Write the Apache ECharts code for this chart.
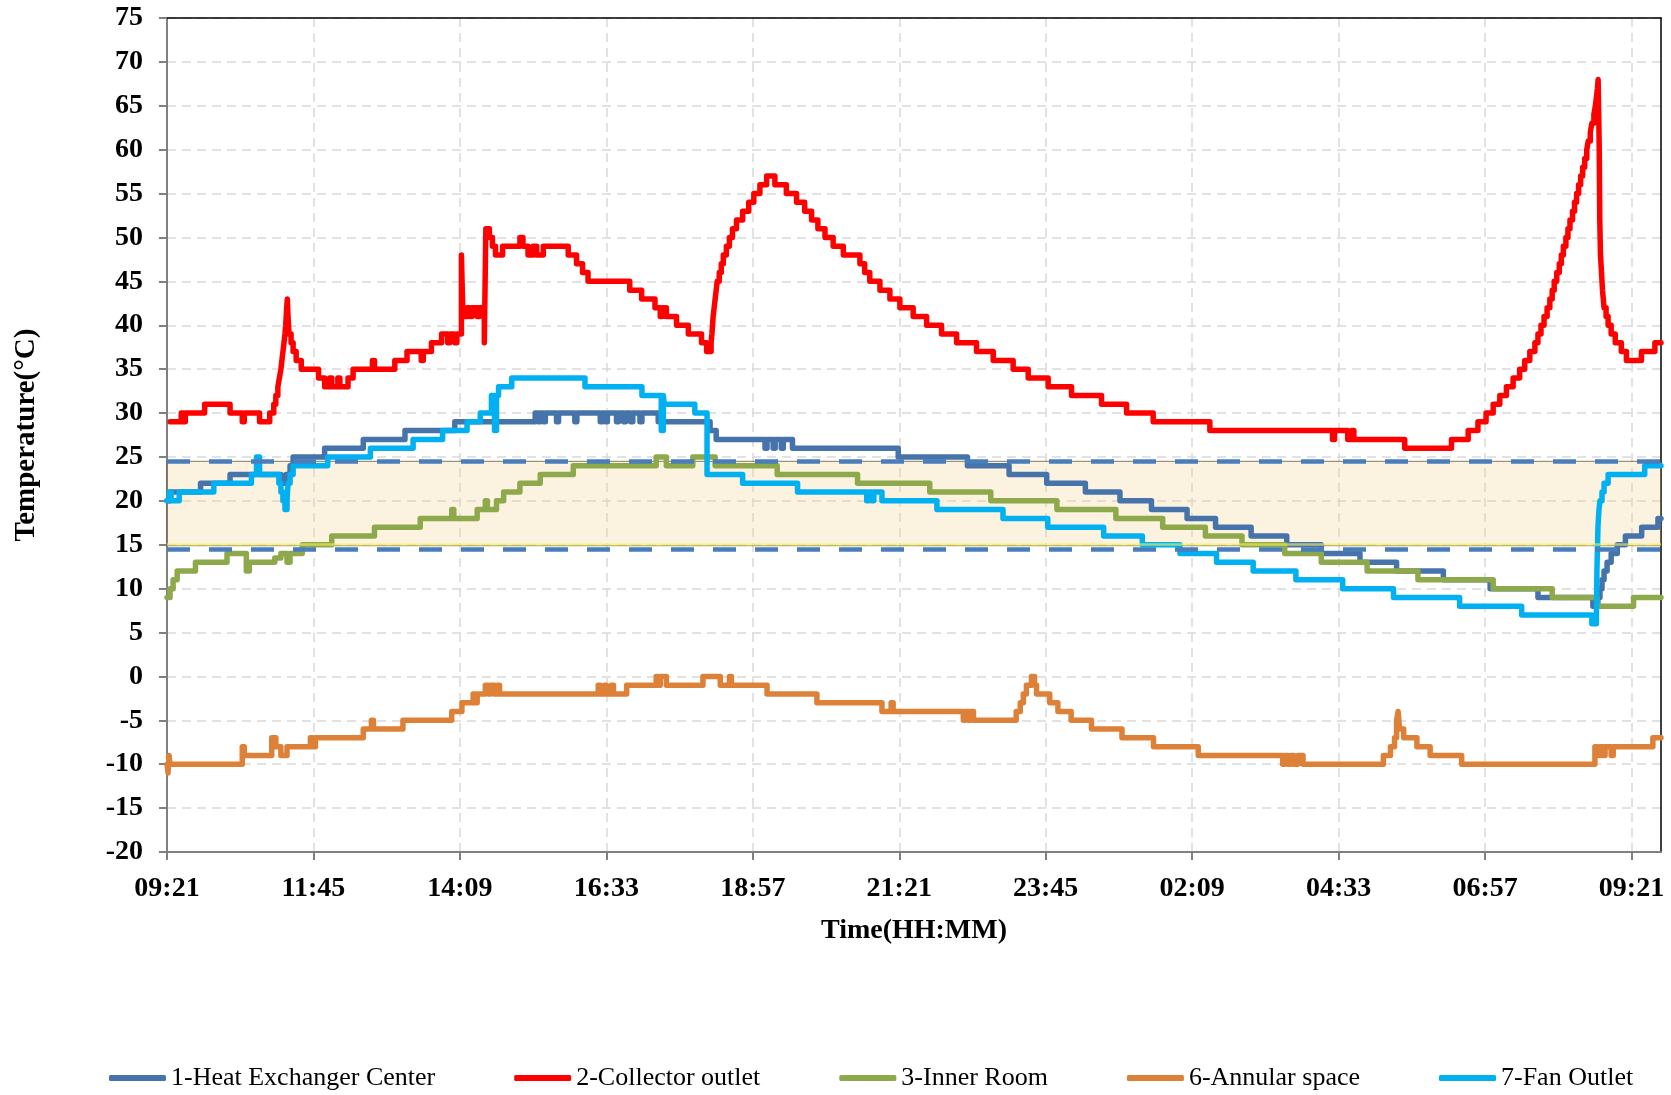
<!DOCTYPE html>
<html>
<head>
<meta charset="utf-8">
<script src="https://cdn.jsdelivr.net/npm/echarts@6/dist/echarts.min.js"></script>
<style>
html,body{margin:0;padding:0;background:#fff;}
#chart{width:1671px;height:1095px;}
</style>
</head>
<body>
<div id="chart"></div>
<script>
// ---- data (x = minutes after 09:21, y = temperature °C) ----
const seriesNames = ['1-Heat Exchanger Center','2-Collector outlet','3-Inner Room','6-Annular space','7-Fan Outlet'];
const xTickValues = [0,144,288,432,576,720,864,1008,1152,1296,1440];
const xTickLabels = ['09:21','11:45','14:09','16:33','18:57','21:21','23:45','02:09','04:33','06:57','09:21'];
const comfortBand = [14.9, 24.5];
const comfortLimits = [24.55, 14.5];
const peakLabels = ['Peak 1','Peak 2'];
const peakX = [548, 1302];
const peakY = [62.4, 67.1];

const heatExchanger = [[0,20],[3,21],[33,22],[62,23],[112,22],[117,23],[121,24],[124,25],[155,26],[193,27],[234,28],[283,29],[362,30],
[365,29],[367,30],[370,29],[372,30],[383,29],[385,30],[401,29],[403,30],[426,29],[428,30],[431,29],[433,30],[442,29],[444,30],[449,29],[451,30],[456,29],[458,30],[465,29],[467,30],
[483,29],[534,28],[540,27],[588,26],[590,27],[596,26],[598,27],[604,26],[606,27],[615,26],[719,25],[787,24],[828,23],[865,22],[903,21],[937,20],[968,19],[1003,18],[1031,17],[1066,16],[1101,15],[1135,14],[1173,13],[1209,12],[1255,11],[1301,10],[1348,9],[1402,8],[1407,9],[1409,10],[1411,11],[1413,12],[1416,13],[1420,14],[1426,15],[1434,16],[1450,17],[1466,18],[1469,18]];

const collectorOutlet = [[3,29],[14,30],[16,29],[18,30],[37,31],[62,30],[74,29],[76,30],[91,29],[101,30],
[105,31],[107,32],[109,33],[110.5,34],[112,35],[113,36],[114,37],[115,38],[116,39],[116.7,40],[117.2,41],[117.7,42],[118.3,43],
[119,41],[119.5,40],[120,39],[122,38],[124,37],[127,36],[132,35],[149,34],[155,33],[160,34],[162,33],[168,34],[170,33],[178,34],[183,35],[202,36],[204,35],[224,36],[236,37],[250,36],[252,37],[260,38],[270,39],[276,38],[278,39],[283,38],[285,39],
[289.5,48],[291,41],[295,42],[298,41],[300,42],[305,41],[307,42],[312,38],[313.5,51],[317,50],[320,49],[323,48],[330,49],[347,50],[350,49],[355,48],[360,49],[363.5,48],[370,49],[394.5,48],[402.7,47],[408.6,46],[414,45],[455,44],[466.7,43],[479.8,42],[485,41],[487,42],[491,41],[501,40],[512.6,39],[525.6,38],[530.6,37],
[535,38],[535.8,39],[536.4,40],[537,41],[538,42],[539,43],[540,44],[541,45],[543,46],[545,47],[547,48],[550,49],[553,50],[556,51],[560,52],[566,53],[572,54],[577,55],[583,56],[589.6,57],
[597.7,56],[609,55],[619,54],[627,53],[633.8,52],[640,51],[647,50],[655,49],[665,48],[681.3,47],[686,46],[691,45],[701,44],[710.8,43],[720.6,42],[733.7,41],[746.9,40],[761.6,39],[776.4,38],[796,37],[812.4,36],[832,35],[846.8,34],[866.4,33],[889.4,32],[918.9,31],[943.5,30],[969.7,29],[1025.4,28],
[1146,27],[1148,28],[1161,27],[1165,28],[1167,27],[1217,26],[1263,27],[1279.4,28],[1289,29],[1297,30],[1304,31],[1310.5,32],[1317,33],[1323.6,34],[1330,35],[1335,36],[1340,37],[1345,38],[1348,39],[1351,40],[1354,41],[1357,42],[1359.7,43],[1362,44],[1364,45],[1366.5,46],[1369,47],[1371,48],[1373,49],[1375.5,50],[1377.5,51],[1379.5,52],[1382,53],[1384,54],[1386,55],[1388,56],[1390,57],[1392,58],[1394,59],[1396,60],[1397.5,61],[1399.5,62],[1401,63],[1403,64],[1404.5,65],[1405.5,66],[1406.5,67],[1407.2,68],
[1408.3,60],[1408.8,52],[1409.5,48],[1410.5,46],[1411.5,44],[1413,42],[1415,41],[1417,40],[1420,39],[1424,38],[1430,37],[1435,36],[1449.8,37],[1463,38],[1469,38]];

const innerRoom = [[0,9],[3,10],[6,11],[10,12],[28,13],[59,14],[78,12],[81,13],[106,13.5],[112,14],[118,13],[121,14],[133,15],[162,16],[204,17],[249,18],[280,19],[282,18],[305,19],[313,20],[315,19],[324,20],[331,21],[347,22],[367,23],[399.5,24],[481,25],[491,24],[517,25],[539,24],[600,23],[679,22],[750,21],[810,20],[875,19],[933,18],[979,17],[1021,16],[1057,15],[1099,14],[1135,13],[1180,12],[1230,11],[1304,10],[1362,9],[1406,8],[1442,9],[1469,9]];

const annularSpace = [[0,-10],[1,-11],[2,-9],[3,-10],[74,-8],[76,-9],[103,-7],[107,-8],[112,-9],[118,-8],[141,-7],[143,-8],[146,-7],[193,-6],[201,-5],[203,-6],[232,-5],[280,-4],[290,-3],[301,-2],[303,-3],[305,-2],[313,-1],[316,-2],[318,-1],[322,-2],[325,-1],[327,-2],[424,-1],[426,-2],[430,-1],[432,-2],[437,-1],[439,-2],[452,-1],[481,0],[483,-1],[485,0],[491,-1],[527,0],[544,-1],[553,0],[555,-1],[590,-2],[639,-3],[703,-4],[712,-3],[714,-4],[783,-5],[785,-4],[788,-5],[790,-4],[793,-5],[835,-4],[839,-3],[842,-2],[845,-1],[850,0],[853,-1],[855,-2],[868,-3],[876,-4],[889,-5],[909,-6],[939,-7],[970,-8],[1014,-9],[1097,-10],[1099,-9],[1102,-10],[1105,-9],[1108,-10],[1112,-9],[1117,-10],[1196,-9],[1203,-8],[1207,-7],[1209,-5],[1210.5,-4],[1212,-6],[1216,-7],[1229,-8],[1242,-9],[1273,-10],[1404,-8],[1407,-9],[1409,-8],[1412,-9],[1414,-8],[1420,-9],[1422,-8],[1461,-7],[1469,-7]];

const fanOutlet = [[0,20],[2,21],[4,20],[12,21],[46,22],[83,23],[88,25],[91,23],[110,22],[112,21],[114,20],[116,19],[118,20],[119,22],[121,23],[124,24],[158,25],[200,26],[242,27],[271,28],[295,29],[308,30],[319,32],[322,28],[324,32],[326,33],[339,34],[411,33],[467,32],[486,28],[488,32],[489,31],[519,30],[531,23],[566,22],[620,21],[688,20],[690,21],[693,20],[695,21],[703,20],[757,19],[822,18],[866,17],[921,16],[959,15],[996,14],[1032,13],[1068,12],[1110,11],[1156,10],[1206,9],[1271,8],[1332,7],[1401,6],[1405.5,7],[1406,12],[1407,17],[1408,19],[1409,20],[1411,21],[1413,22],[1417,23],[1453,24],[1469,24]];

const seriesData = [heatExchanger, collectorOutlet, innerRoom, annularSpace, fanOutlet];
const seriesColors = ['#4674AA','#FF0000','#8DA94B','#DE8138','#00B0F0'];

// ---- chart ----
const FONT = "'Liberation Serif','Times New Roman',serif";
const chart = echarts.init(document.getElementById('chart'), null, {renderer:'canvas'});

const lineSeries = seriesNames.map((n,i)=>({
  name:n, type:'line', step:'end', data:seriesData[i], showSymbol:false, symbol:'none',
  color:seriesColors[i],
  lineStyle:{width:5.5, color:seriesColors[i], cap:'round', join:'round'},
  z:2, animation:false
}));

const gridLine = {show:true, lineStyle:{color:'#D9D9D9', width:1.5, type:[9,6]}};

const option = {
  animation:false,
  backgroundColor:'#fff',
  grid:{left:167, top:18, right:10, bottom:243, containLabel:false},
  legend:{
    data:seriesNames, left:104, top:1060, itemGap:79, itemWidth:57, itemHeight:6, icon:'roundRect',
    textStyle:{fontFamily:FONT, fontSize:26, color:'#000'}
  },
  xAxis:[{
    type:'value', min:0, max:1469, interval:144,
    name:'Time(HH:MM)', nameLocation:'middle', nameGap:65,
    nameTextStyle:{fontFamily:FONT, fontSize:28, fontWeight:'bold', color:'#000'},
    axisLine:{show:true, onZero:false, lineStyle:{color:'#808080', width:2}},
    axisTick:{show:true, inside:false, length:8, customValues:xTickValues, lineStyle:{color:'#808080', width:2}},
    axisLabel:{show:true, margin:23, customValues:xTickValues, fontFamily:FONT, fontSize:28, fontWeight:'bold', color:'#000',
      formatter:function(v){ const i = xTickValues.indexOf(Math.round(v)); return i>=0 ? xTickLabels[i] : ''; }},
    splitLine:gridLine
  },{
    type:'value', position:'top', min:0, max:1469, interval:144,
    axisLine:{show:true, onZero:false, lineStyle:{color:'#000', width:1.5}},
    axisTick:{show:false}, axisLabel:{show:false}, splitLine:{show:false}
  }],
  yAxis:[{
    type:'value', min:-20, max:75, interval:5,
    name:'Temperature(°C)', nameLocation:'middle', nameGap:126, nameRotate:90,
    nameTextStyle:{fontFamily:FONT, fontSize:29, fontWeight:'bold', color:'#000'},
    axisLine:{show:true, onZero:false, lineStyle:{color:'#808080', width:2}},
    axisTick:{show:true, inside:false, length:8, lineStyle:{color:'#808080', width:2}},
    axisLabel:{margin:24, fontFamily:FONT, fontSize:28, fontWeight:'bold', color:'#000'},
    splitLine:gridLine
  },{
    type:'value', position:'right', min:-20, max:75, interval:5,
    axisLine:{show:true, onZero:false, lineStyle:{color:'#000', width:1.5}},
    axisTick:{show:false}, axisLabel:{show:false}, splitLine:{show:false}
  }],
  series: lineSeries.concat([
    {
      name:'band', type:'line', data:[], z:5, silent:true,
      markArea:{silent:true, itemStyle:{color:'rgba(240,212,140,0.27)', borderColor:'rgba(90,80,40,0.6)', borderWidth:1.2},
        data:[[{yAxis:comfortBand[0]},{yAxis:comfortBand[1]}]]},
      markLine:{silent:true, symbol:'none', label:{show:false}, animation:false,
        data:[
          {yAxis:comfortBand[0]+0.15, lineStyle:{color:'rgba(250,240,90,0.6)', width:2.5, type:'solid'}},
          {yAxis:comfortLimits[0], lineStyle:{color:'#4A7EBB', width:4.5, type:[23,19]}},
          {yAxis:comfortLimits[1], lineStyle:{color:'#4A7EBB', width:4.5, type:[23,19]}}
        ]}
    },
    {
      name:'peaks', type:'scatter', symbolSize:1, itemStyle:{opacity:0}, z:6, silent:true,
      data: peakLabels.map((t,i)=>[peakX[i], peakY[i], t]),
      label:{show:true, position:'inside', formatter:function(p){return p.value[2];},
        fontFamily:FONT, fontSize:28, fontWeight:'bold', color:'#000'}
    }
  ])
};
chart.setOption(option);
</script>
</body>
</html>
